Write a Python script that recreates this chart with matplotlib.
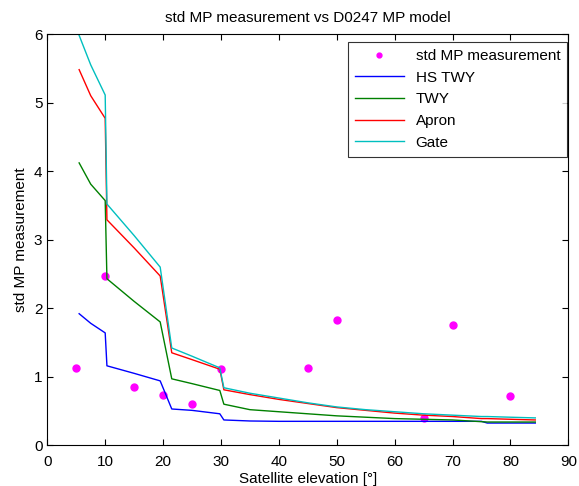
import matplotlib.pyplot as plt
import numpy as np

plt.rcParams['font.family'] = ['Liberation Sans', 'DejaVu Sans']

# measured std of multipath per elevation bin
meas_elev = [5, 10, 15, 20, 25, 30, 45, 50, 65, 70, 80]
meas_std = [1.13, 2.47, 0.85, 0.74, 0.61, 1.11, 1.13, 1.83, 0.40, 1.75, 0.72]

# model curves
elev = [5.5, 7.5, 10, 10.3, 15, 19.5, 21.5, 25, 29.8, 30.5, 35, 40, 45,
        50, 55, 60, 65, 70, 75, 76, 80, 84.3]
hs_twy = [1.92, 1.78, 1.64, 1.16, 1.05, 0.94, 0.53, 0.51, 0.46, 0.37, 0.355,
          0.35, 0.35, 0.35, 0.35, 0.35, 0.35, 0.35, 0.35, 0.325, 0.325, 0.325]
twy = [4.12, 3.81, 3.57, 2.43, 2.10, 1.80, 0.97, 0.90, 0.80, 0.60, 0.52,
       0.49, 0.46, 0.43, 0.41, 0.39, 0.38, 0.37, 0.345, 0.34, 0.34, 0.34]
apron = [5.48, 5.10, 4.77, 3.29, 2.88, 2.47, 1.35, 1.25, 1.11, 0.81, 0.74,
         0.67, 0.61, 0.55, 0.51, 0.47, 0.44, 0.42, 0.39, 0.39, 0.38, 0.37]
gate = [5.98, 5.55, 5.11, 3.52, 3.06, 2.60, 1.42, 1.30, 1.13, 0.84, 0.76,
        0.69, 0.62, 0.56, 0.52, 0.49, 0.46, 0.44, 0.42, 0.42, 0.41, 0.40]

fig = plt.figure(figsize=(5.79, 4.86), dpi=100)
ax = fig.add_axes([0.0817, 0.0837, 0.8998, 0.8463])

ax.plot(meas_elev, meas_std, '.', color='#ff00ff', markersize=10,
        label='std MP measurement')
ax.plot(elev, hs_twy, color='#0000ff', lw=1, label='HS TWY')
ax.plot(elev, twy, color='#008000', lw=1, label='TWY')
ax.plot(elev, apron, color='#ff0000', lw=1, label='Apron')
ax.plot(elev, gate, color='#00bfbf', lw=1, label='Gate')

ax.set_xlim(0, 90)
ax.set_ylim(0, 6)
ax.set_xticks(np.arange(0, 91, 10))
ax.set_yticks(np.arange(0, 7, 1))
ax.tick_params(direction='in', length=4, labelsize=11, top=True, right=True,
               labeltop=False, labelright=False)
ax.tick_params(axis='x', pad=7)
for s in ax.spines.values():
    s.set_linewidth(0.8)

ax.set_title('std MP measurement vs D0247 MP model', fontsize=11, pad=9)
ax.set_xlabel('Satellite elevation [°]', fontsize=11, labelpad=2)
ax.set_ylabel('std MP measurement', fontsize=11, labelpad=4)

leg = ax.legend(loc='upper right', fontsize=11, frameon=True, fancybox=False,
                edgecolor='black', borderpad=0.45, labelspacing=0.5,
                handlelength=3.2, markerscale=0.7, borderaxespad=0,
                bbox_to_anchor=(0.998, 0.98))
leg.get_frame().set_linewidth(0.8)

fig.savefig('out.png', dpi=100)
